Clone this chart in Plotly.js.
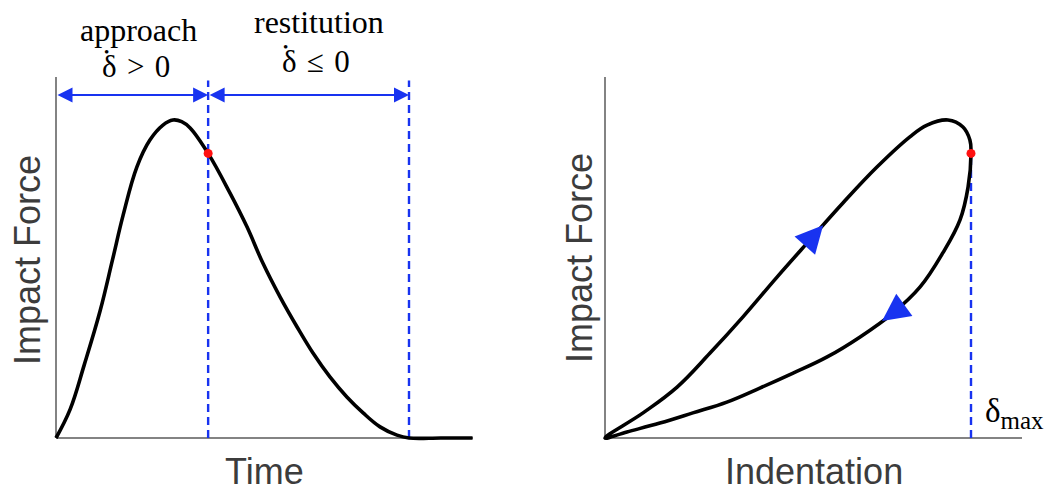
<!DOCTYPE html>
<html>
<head>
<meta charset="utf-8">
<script src="https://cdn.plot.ly/plotly-3.0.1.min.js"></script>
<style>
  html, body { margin: 0; padding: 0; background: #ffffff; }
  #chart { width: 1052px; height: 493px; }
</style>
</head>
<body>
<div id="chart"></div>
<script>
// Impact force history over one contact (normalised time and force)
const timeVals  = [0, 0.040, 0.080, 0.125, 0.160, 0.190, 0.229, 0.266, 0.303, 0.331, 0.356, 0.380, 0.431,
                   0.493, 0.541, 0.586, 0.635, 0.683, 0.728, 0.776, 0.824, 0.870, 0.918, 0.966, 1.000, 1.090, 1.180];
const forceVals = [0, 0.090, 0.230, 0.400, 0.560, 0.700, 0.852, 0.937, 0.984, 1.000, 0.995, 0.975, 0.895,
                   0.770, 0.664, 0.550, 0.443, 0.349, 0.267, 0.192, 0.129, 0.079, 0.035, 0.009, 0.000, 0.000, 0.000];

// Force-indentation loop: approach branch (loading) ...
const approachIndent = [0, 0.104, 0.197, 0.287, 0.377, 0.470, 0.560, 0.650, 0.743, 0.833, 0.880, 0.937, 0.978, 0.997, 1.000];
const approachForce  = [0, 0.079, 0.160, 0.267, 0.381, 0.506, 0.623, 0.739, 0.852, 0.947, 0.984, 1.000, 0.978, 0.937, 0.895];
// ... and restitution branch (unloading)
const restitutionIndent = [1.000, 0.992, 0.970, 0.923, 0.861, 0.787, 0.697, 0.607, 0.514, 0.423, 0.333, 0.240, 0.150, 0.060, 0];
const restitutionForce  = [0.895, 0.789, 0.686, 0.582, 0.475, 0.393, 0.318, 0.255, 0.204, 0.157, 0.113, 0.079, 0.047, 0.019, 0];

// Key instants of the contact
const tMaxIndent  = 0.431;   // end of approach (maximum indentation)
const tContactEnd = 1.000;   // end of restitution

// Text (the rate dot over δ is set as its own small label)
const phaseLabels     = ['approach', 'restitution'];
const phaseConditions = ['δ\u2004>\u20040', 'δ\u2004≤\u20040'];
const rateDot         = '•';
const xTitles         = ['Time', 'Indentation'];
const yTitle          = 'Impact Force';
const deltaMaxLabel   = 'δ<sub><span style="font-size:25px">max</span></sub>';

// Where the direction arrows sit on the loop (indentation value of the tip)
const approachArrowAt    = 0.596;
const restitutionArrowAt = 0.757;

// ---------- geometry (pixels) ----------
const W = 1052, H = 493;
const PAD = 5;
const Y0 = 438, YTOP = 77, Y_UNIT = 318;
const LEFT  = { x0: 56,  x1: 473,  unit: 353 };
const RIGHT = { x0: 605, x1: 1022, unit: 366 };

const BLUE = '#1833f0';
const AXIS_GREY = '#5a5a5a';
const TITLE_GREY = '#3c3c3c';
const SANS = 'Liberation Sans, Arial, sans-serif';
const SERIF = 'Liberation Serif, Times New Roman, serif';

function xAxisFor(g) {
  return {
    domain: [(g.x0 - PAD) / W, g.x1 / W],
    range: [-PAD / g.unit, (g.x1 - g.x0) / g.unit],
    showline: false, showgrid: false, zeroline: false,
    showticklabels: false, ticks: '', fixedrange: true
  };
}
const yMax = (Y0 - YTOP) / Y_UNIT;
function yAxis() {
  return {
    domain: [(H - Y0 - PAD) / H, (H - YTOP) / H],
    range: [-PAD / Y_UNIT, yMax],
    showline: false, showgrid: false, zeroline: false,
    showticklabels: false, ticks: '', fixedrange: true
  };
}

function interp(xs, ys, x) {
  for (let i = 0; i < xs.length - 1; i++) {
    const a = xs[i], b = xs[i + 1];
    if ((x - a) * (x - b) <= 0 && a !== b) {
      const f = (x - a) / (b - a);
      return { y: ys[i] + f * (ys[i + 1] - ys[i]), i: i };
    }
  }
  return { y: ys[ys.length - 1], i: xs.length - 2 };
}

// Arrowhead sitting on a branch, pointing along the branch order
function branchArrow(xs, ys, at, xref, yref, unitX) {
  const p = interp(xs, ys, at);
  const i = p.i;
  let dx = (xs[i + 1] - xs[i]) * unitX;
  let dy = -(ys[i + 1] - ys[i]) * Y_UNIT;
  const n = Math.hypot(dx, dy);
  dx /= n; dy /= n;
  const L = 16;
  return {
    xref: xref, yref: yref, x: at, y: p.y,
    ax: -dx * L, ay: -dy * L, axref: 'pixel', ayref: 'pixel',
    text: '', showarrow: true, arrowhead: 2, arrowsize: 5.5, arrowwidth: 1,
    arrowcolor: BLUE, standoff: 0, startstandoff: 0
  };
}

const fMaxIndent = interp(timeVals, forceVals, tMaxIndent).y;
const deltaMax = Math.max.apply(null, approachIndent);
const fAtDeltaMax = approachForce[approachIndent.indexOf(deltaMax)];

const loopIndent = approachIndent.concat(restitutionIndent.slice(1));
const loopForce  = approachForce.concat(restitutionForce.slice(1));

const curveLine = { color: '#000000', width: 3.6, shape: 'spline', smoothing: 1.1 };

const traces = [
  { x: timeVals, y: forceVals, xaxis: 'x', yaxis: 'y', mode: 'lines', line: curveLine, hoverinfo: 'skip' },
  { x: [tMaxIndent], y: [fMaxIndent], xaxis: 'x', yaxis: 'y',
    mode: 'markers', marker: { color: '#ff1010', size: 9 }, hoverinfo: 'skip' },
  { x: loopIndent, y: loopForce, xaxis: 'x2', yaxis: 'y2', mode: 'lines', line: curveLine, hoverinfo: 'skip' },
  { x: [deltaMax], y: [fAtDeltaMax], xaxis: 'x2', yaxis: 'y2',
    mode: 'markers', marker: { color: '#ff1010', size: 9 }, hoverinfo: 'skip' }
];

const dashStyle = { color: BLUE, width: 2.4, dash: '8px,5px' };
const axisStyle = { color: AXIS_GREY, width: 1.5 };
const leftXMax = (LEFT.x1 - LEFT.x0) / LEFT.unit;
const rightXMax = (RIGHT.x1 - RIGHT.x0) / RIGHT.unit;

const shapes = [
  // axis lines
  { type: 'line', xref: 'x', yref: 'y', x0: 0, x1: leftXMax, y0: 0, y1: 0, line: axisStyle, layer: 'below' },
  { type: 'line', xref: 'x', yref: 'y', x0: 0, x1: 0, y0: 0, y1: yMax, line: axisStyle, layer: 'below' },
  { type: 'line', xref: 'x2', yref: 'y2', x0: 0, x1: rightXMax, y0: 0, y1: 0, line: axisStyle, layer: 'below' },
  { type: 'line', xref: 'x2', yref: 'y2', x0: 0, x1: 0, y0: 0, y1: yMax, line: axisStyle, layer: 'below' },
  // phase boundaries
  { type: 'line', xref: 'x', yref: 'y', x0: tMaxIndent, x1: tMaxIndent, y0: 0, y1: yMax * 0.99, line: dashStyle, layer: 'below' },
  { type: 'line', xref: 'x', yref: 'y', x0: tContactEnd, x1: tContactEnd, y0: 0, y1: yMax * 0.99, line: dashStyle, layer: 'below' },
  { type: 'line', xref: 'x2', yref: 'y2', x0: deltaMax, x1: deltaMax, y0: 0, y1: fAtDeltaMax, line: dashStyle, layer: 'below' }
];

const arrowLevel = yMax * 0.95;
const py = (p) => 1 - p / H;
const px = (p) => p / W;

function spanArrow(from, to) {
  return {
    xref: 'x', yref: 'y', x: to, y: arrowLevel, ax: from, ay: arrowLevel,
    axref: 'x', ayref: 'y', text: '', showarrow: true,
    arrowside: 'end+start', arrowhead: 2, startarrowhead: 2,
    arrowsize: 1.5, startarrowsize: 1.5, arrowwidth: 2, arrowcolor: BLUE,
    standoff: 0, startstandoff: 0
  };
}

const serifFont = { family: SERIF, size: 32, color: '#000000' };
const condFont = { family: SERIF, size: 31, color: '#000000' };
const dotFont = { family: SERIF, size: 15, color: '#000000' };
const titleFont = { family: SANS, size: 36, color: TITLE_GREY };

// phase captions: centre of phase, label/condition/dot heights (px from top)
const phases = [
  { mid: tMaxIndent / 2, shift: 6, labelY: 30, condY: 67, condShift: -32, dotY: 52 },
  { mid: (tMaxIndent + tContactEnd) / 2, shift: 10, labelY: 22, condY: 61, condShift: -29, dotY: 47 }
];

const annotations = [
  spanArrow(0, tMaxIndent),
  spanArrow(tMaxIndent, tContactEnd)
];
phases.forEach(function (ph, k) {
  annotations.push(
    { xref: 'x', yref: 'paper', x: ph.mid, xshift: ph.shift, y: py(ph.labelY), text: phaseLabels[k],
      showarrow: false, font: serifFont, xanchor: 'center', yanchor: 'middle' },
    { xref: 'x', yref: 'paper', x: ph.mid, xshift: ph.condShift, y: py(ph.condY), text: phaseConditions[k],
      showarrow: false, font: condFont, xanchor: 'left', yanchor: 'middle' },
    { xref: 'x', yref: 'paper', x: ph.mid, xshift: ph.condShift + 6, y: py(ph.dotY), text: rateDot,
      showarrow: false, font: dotFont, xanchor: 'center', yanchor: 'middle', borderpad: 0 }
  );
});

annotations.push(
  { xref: 'x2', yref: 'y2', x: deltaMax, y: 0, xshift: 12, yshift: 2, text: deltaMaxLabel,
    showarrow: false, font: { family: SERIF, size: 33, color: '#000000' }, xanchor: 'left', yanchor: 'bottom' },
  // axis titles
  { xref: 'paper', yref: 'paper', x: px((LEFT.x0 + LEFT.x1) / 2), y: py(471), text: xTitles[0],
    showarrow: false, font: titleFont, xanchor: 'center', yanchor: 'middle' },
  { xref: 'paper', yref: 'paper', x: px((RIGHT.x0 + RIGHT.x1) / 2), y: py(471), text: xTitles[1],
    showarrow: false, font: titleFont, xanchor: 'center', yanchor: 'middle' },
  { xref: 'paper', yref: 'paper', x: px(27), y: py(260), text: yTitle, textangle: -90,
    showarrow: false, font: titleFont, xanchor: 'center', yanchor: 'middle' },
  { xref: 'paper', yref: 'paper', x: px(579), y: py(258), text: yTitle, textangle: -90,
    showarrow: false, font: titleFont, xanchor: 'center', yanchor: 'middle' },
  branchArrow(approachIndent, approachForce, approachArrowAt, 'x2', 'y2', RIGHT.unit),
  branchArrow(restitutionIndent, restitutionForce, restitutionArrowAt, 'x2', 'y2', RIGHT.unit)
);

const layout = {
  width: W, height: H,
  margin: { l: 0, r: 0, t: 0, b: 0 },
  paper_bgcolor: '#ffffff', plot_bgcolor: 'rgba(0,0,0,0)',
  showlegend: false,
  xaxis: xAxisFor(LEFT), yaxis: yAxis(),
  xaxis2: Object.assign(xAxisFor(RIGHT), { anchor: 'y2' }),
  yaxis2: Object.assign(yAxis(), { anchor: 'x2' }),
  shapes: shapes,
  annotations: annotations
};

Plotly.newPlot('chart', traces, layout, { staticPlot: true, displayModeBar: false });
</script>
</body>
</html>
